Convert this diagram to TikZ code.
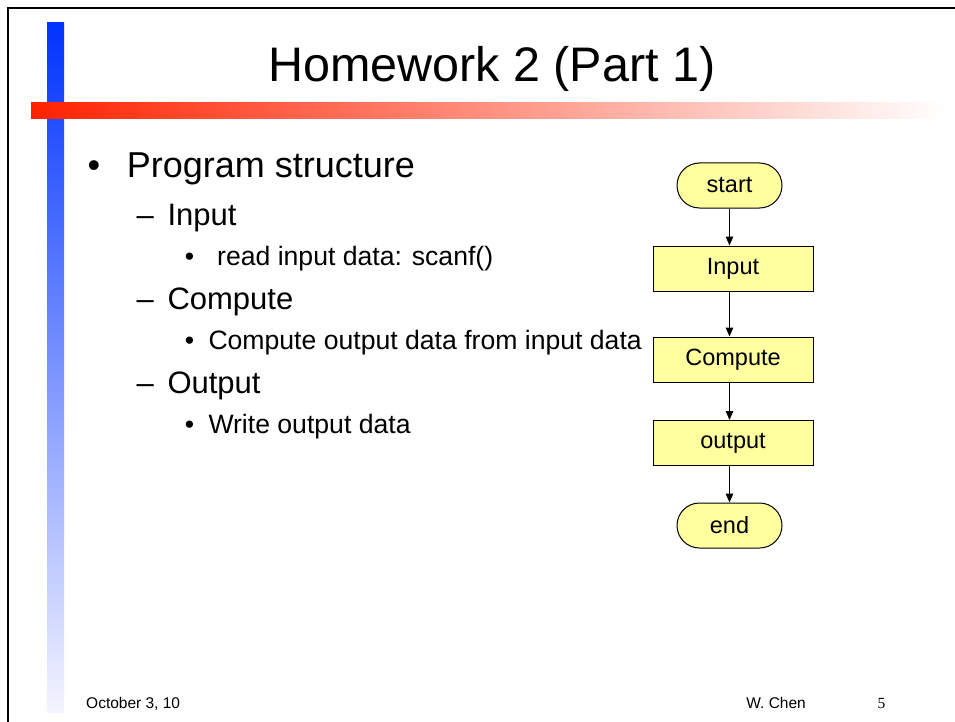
\documentclass[tikz,border=0pt]{standalone}
\usepackage{fontspec}
\setmainfont{Liberation Sans}
\newfontfamily\pagenumfont{Liberation Serif}
\usetikzlibrary{arrows.meta}
\definecolor{boxfill}{RGB}{255,255,160}
\definecolor{bluebar}{RGB}{0,51,255}
\definecolor{bluefade}{RGB}{244,244,255}
\definecolor{redbar}{RGB}{255,34,0}
\tikzset{
  txt/.style={inner sep=0pt, anchor=base west},
  bulletmark/.style={inner sep=0pt, anchor=base},
  lvlone/.style={font=\fontsize{36}{40}\selectfont},
  lvltwo/.style={font=\fontsize{31}{36}\selectfont},
  lvlthree/.style={font=\fontsize{26.6}{30}\selectfont},
  footer/.style={font=\fontsize{15.5}{18}\selectfont},
  term/.style={draw=black, line width=1pt, fill=boxfill, minimum width=105pt, minimum height=45pt,
    rounded corners=22.5pt, inner sep=0pt, font=\fontsize{23.5}{28}\selectfont},
  proc/.style={draw=black, line width=1pt, fill=boxfill, minimum width=160pt, minimum height=45pt,
    inner sep=0pt, font=\fontsize{23.5}{28}\selectfont},
  arr/.style={line width=1.2pt, -{Triangle[length=9pt,width=7.5pt]}},
}
\begin{document}
\begin{tikzpicture}[x=1pt,y=-1pt]
\useasboundingbox (0,0) rectangle (955,722);
\fill[white] (0,0) rectangle (955,722);
% frame (left and top edges)
\draw[line width=1.8pt] (8,722) -- (8,8) -- (955,8);
% decorative bars
\shade[top color=bluebar, bottom color=bluefade] (47,23) rectangle (64,712);
\shade[left color=redbar, right color=white] (31,103) rectangle (945,119);
% title
\node[txt, font=\fontsize{48.5}{56}\selectfont] (title) at (268,81.7) {Homework 2 (Part 1)};
% bullet list
\node[bulletmark, lvlone] (b1) at (94,178) {•};
\node[txt, lvlone] (t1) at (126.7,178) {Program structure};
\node[txt, lvltwo] (d1) at (136.5,225) {–};
\node[txt, lvltwo] (t2) at (167.3,225) {Input};
\node[bulletmark, lvlthree] (b2) at (189.5,265) {•};
\node[txt, lvlthree] (t3) at (217,265) {read input data: scanf()};
\node[txt, lvltwo] (d2) at (136.5,309) {–};
\node[txt, lvltwo] (t4) at (167.3,309) {Compute};
\node[bulletmark, lvlthree] (b3) at (189.5,349) {•};
\node[txt, lvlthree] (t5) at (208.3,349) {Compute output data from input data};
\node[txt, lvltwo] (d3) at (136.5,393) {–};
\node[txt, lvltwo] (t6) at (167.3,393) {Output};
\node[bulletmark, lvlthree] (b4) at (189.5,433) {•};
\node[txt, lvlthree] (t7) at (208.3,433) {Write output data};
% flowchart
\node[term] (start) at (729.5,185.5) {start};
\node[proc] (in) at (733,268.5) {Input};
\node[proc] (cmp) at (733,359.5) {Compute};
\node[proc] (out) at (733,443) {output};
\node[term] (end) at (729.5,525.5) {end};
\draw[arr] (start.south) -- (start.south |- in.north);
\draw[arr] (in.south -| start.south) -- (start.south |- cmp.north);
\draw[arr] (cmp.south -| start.south) -- (start.south |- out.north);
\draw[arr] (out.south -| start.south) -- (end.north);
% footer
\node[txt, footer] (date) at (86,708.3) {October 3, 10};
\node[inner sep=0pt, anchor=base east, footer] (author) at (806,708.3) {W. Chen};
\node[bulletmark, font=\fontsize{15.5}{18}\pagenumfont] (pnum) at (881.5,708.3) {5};
\end{tikzpicture}
\end{document}
